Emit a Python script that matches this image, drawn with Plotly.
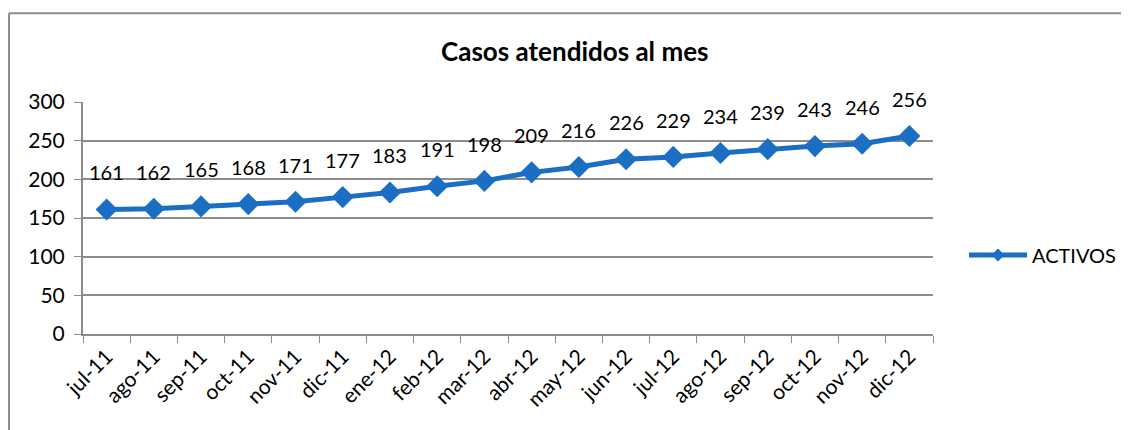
import plotly.graph_objects as go

meses = ["jul-11", "ago-11", "sep-11", "oct-11", "nov-11", "dic-11", "ene-12", "feb-12", "mar-12",
         "abr-12", "may-12", "jun-12", "jul-12", "ago-12", "sep-12", "oct-12", "nov-12", "dic-12"]
activos = [161, 162, 165, 168, 171, 177, 183, 191, 198, 209, 216, 226, 229, 234, 239, 243, 246, 256]

azul = "#1a6fc4"
gris = "#8c8c8c"
fuente = "Lato, 'Open Sans', sans-serif"

fig = go.Figure()
fig.add_trace(go.Scatter(
    x=meses, y=activos, mode="lines+markers", name="ACTIVOS", showlegend=False,
    line=dict(color=azul, width=5),
    marker=dict(symbol="diamond", size=17, color=azul),
))
# entrada de leyenda con rombo pequeno, como en Excel
fig.add_trace(go.Scatter(
    x=[None], y=[None], mode="lines+markers", name="ACTIVOS",
    line=dict(color=azul, width=5),
    marker=dict(symbol="diamond", size=10, color=azul),
))

# etiquetas de datos encima de cada punto
for m, v in zip(meses, activos):
    fig.add_annotation(x=m, y=v, text=str(v), showarrow=False, yshift=37,
                       font=dict(size=20, color="black", family=fuente))

# borde del area del grafico (se sale de la imagen por abajo y la derecha)
fig.add_shape(type="line", xref="paper", yref="paper", x0=-0.0871, x1=1.3, y0=1.383, y1=1.383,
              line=dict(color=gris, width=2))
fig.add_shape(type="line", xref="paper", yref="paper", x0=-0.0871, x1=-0.0871, y0=1.383, y1=-0.5,
              line=dict(color=gris, width=2))

fig.update_layout(
    width=1129, height=430,
    margin=dict(l=75, r=204, t=94, b=104),
    paper_bgcolor="white", plot_bgcolor="white",
    font=dict(family=fuente, size=21, color="black"),
    title=dict(text="<b>Casos atendidos al mes</b>", x=0.502, xanchor="center",
               y=0.898, yanchor="middle", font=dict(size=26, color="black")),
    showlegend=True,
    legend=dict(x=1.0365, y=0.34, xanchor="left", yanchor="middle",
                font=dict(size=20), bgcolor="rgba(0,0,0,0)", itemwidth=58),
)
fig.update_xaxes(
    type="category", tickangle=-45, showgrid=False, showline=True, linecolor=gris, linewidth=2,
    ticks="outside", tickson="boundaries", ticklen=7, tickcolor=gris,
    tickfont=dict(size=21), range=[-0.5, len(meses) - 0.5], automargin=False,
)
fig.update_yaxes(
    range=[0, 300], dtick=50, showgrid=True, gridcolor=gris, gridwidth=1.5,
    showline=True, linecolor=gris, linewidth=2, ticks="outside", ticklen=7, tickcolor=gris,
    tickfont=dict(size=21), zeroline=False, automargin=False, ticklabelstandoff=5,
)

fig.write_html("out.html")
